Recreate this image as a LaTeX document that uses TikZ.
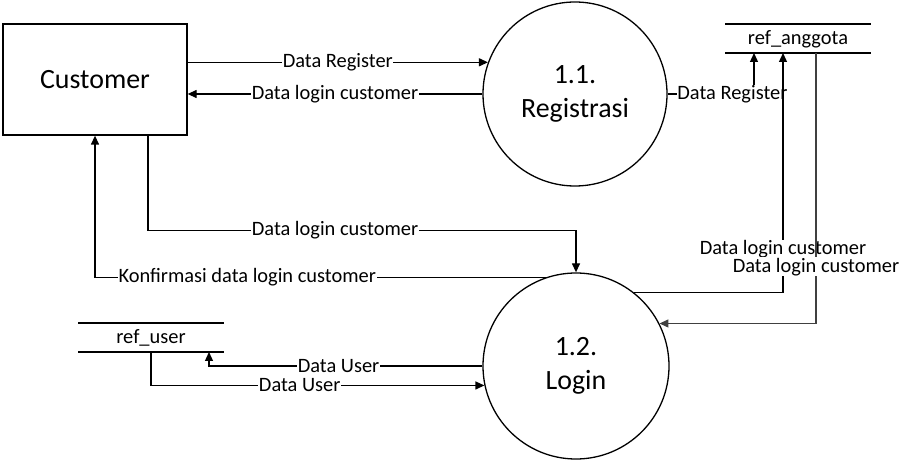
\documentclass[tikz,border=0pt]{standalone}
\usepackage{fontspec}
\setmainfont{Carlito}
\usetikzlibrary{arrows.meta,calc}
\begin{document}
\begin{tikzpicture}[x=1bp,y=-1bp,
  line width=1.3bp,
  arr/.style={-{Triangle[length=9bp,width=8bp]}},
  lbl/.style={fill=white,inner sep=0.5bp,font=\fontsize{20.5}{23}\selectfont},
  big/.style={font=\fontsize{28}{34}\selectfont},
  proc/.style={circle,draw,minimum size=#1,inner sep=0pt,align=center,big},
  storetxt/.style={font=\fontsize{20.5}{23}\selectfont,inner sep=0pt}]
\useasboundingbox (0,0) rectangle (899,466);
% nodes
\node[draw,minimum width=184bp,minimum height=111bp,inner sep=0pt,big] (cust) at (95,79.5) {Customer};
\node[proc=184bp] (p1) at (575,94) {1.1.\\Registrasi};
\node[proc=186bp] (p2) at (576,366) {1.2.\\Login};
% data stores
\node[storetxt] (ra) at (798,39) {ref\_anggota};
\draw (725,24) -- (871,24);
\draw (725,53) -- (871,53);
\coordinate (ra1) at (754,53);
\coordinate (ra2) at (783,53);
\coordinate (ra3) at (816,53);
\node[storetxt] (ru) at (151,338) {ref\_user};
\draw (78,323) -- (224,323);
\draw (78,352) -- (224,352);
\coordinate (ru1) at (209,352);
\coordinate (ru2) at (151,352);
% flows
\draw[arr] (cust.east |- p1.160) -- node[lbl]{Data Register} (p1.160);
\draw[arr] (p1.west) -- node[lbl]{Data login customer} (cust.east |- p1.west);
\draw[arr] (p1.east) -- node[lbl,pos=0.75]{Data Register} (p1.east -| ra1) -- (ra1);
\draw[arr] (p2.52) -- (p2.52 -| ra2) -- node[lbl,pos=0.18]{Data login customer} (ra2);
\draw[arr,draw=black!75] (ra3) -- node[lbl,text=black,pos=0.79]{Data login customer} (ra3 |- p2.27) -- (p2.27);
\draw[arr] ([xshift=53bp]cust.south) -- ++(0,95) -| node[lbl,pos=0.2185]{Data login customer} (p2.north);
\draw[arr] (p2.109) -| node[lbl,pos=0.331]{Konfirmasi data login customer} (cust.south);
\draw[arr] (p2.west) -| node[lbl,pos=0.263]{Data User} (ru1);
\draw[arr] (ru2) |- node[lbl,pos=0.723]{Data User} (p2.192);
\end{tikzpicture}
\end{document}
